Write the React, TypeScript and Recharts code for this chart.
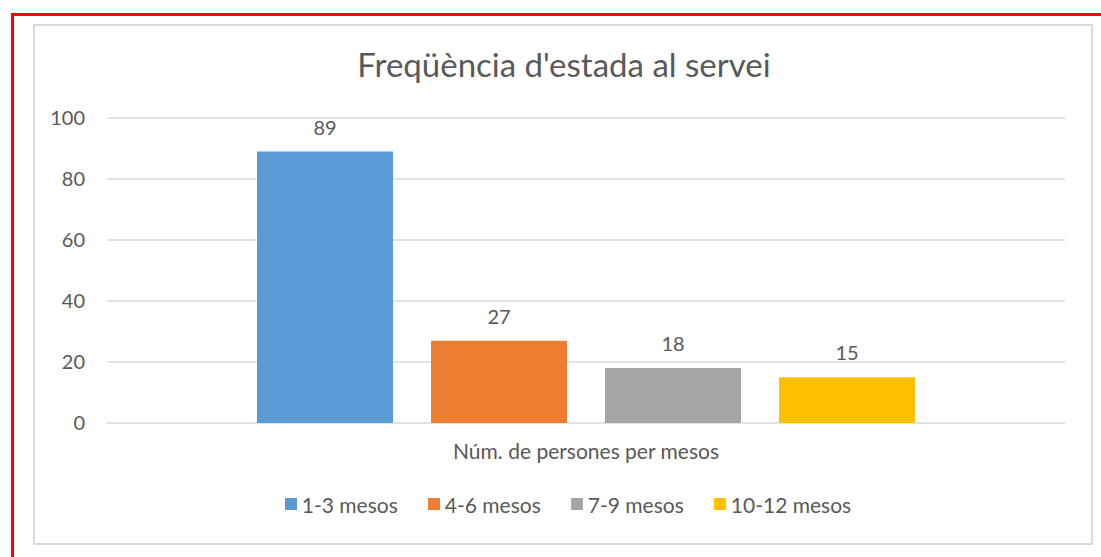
import { BarChart, Bar, XAxis, YAxis, CartesianGrid, Legend, LabelList } from 'recharts';

const CATEGORY = 'Núm. de persones per mesos';
const SERIES = ['1-3 mesos', '4-6 mesos', '7-9 mesos', '10-12 mesos'];
const VALUES = [89, 27, 18, 15];
const COLORS = ['#5b9bd5', '#ed7d31', '#a5a5a5', '#ffc000'];
const Y_TICKS = [0, 20, 40, 60, 80, 100];

const FONT = 'Lato, "Open Sans", sans-serif';
const TEXT = '#595959';

const row: Record<string, string | number> = { name: CATEGORY };
SERIES.forEach((s, i) => {
  row[s] = VALUES[i];
});
const data = [row];

// eslint-disable-next-line @typescript-eslint/no-explicit-any
function LegendContent(props: any) {
  const payload = [...(props.payload || [])].sort(
    (a: { value: string }, b: { value: string }) => SERIES.indexOf(a.value) - SERIES.indexOf(b.value)
  );
  return (
    <div
      style={{
        height: 30,
        display: 'flex',
        justifyContent: 'center',
        alignItems: 'center',
        gap: 30,
        fontFamily: FONT,
        fontSize: 21,
        color: TEXT,
      }}
    >
      {payload.map((p: { value: string; color: string }) => (
        <div key={p.value} style={{ display: 'flex', alignItems: 'center' }}>
          <span style={{ width: 12, height: 12, background: p.color, marginRight: 5 }} />
          <span>{p.value}</span>
        </div>
      ))}
    </div>
  );
}

export default function App() {
  return (
    <div
      style={{
        position: 'absolute',
        left: 0,
        top: 0,
        width: 1101,
        height: 557,
        background: '#fff',
        overflow: 'hidden',
      }}
    >
      {/* red frame, only left and top edges are visible */}
      <div
        style={{
          position: 'absolute',
          left: 11,
          top: 13,
          width: 1200,
          height: 700,
          borderLeft: '3px solid #ff0000',
          borderTop: '3px solid #ff0000',
        }}
      />
      <div
        style={{
          position: 'absolute',
          left: 33,
          top: 24,
          width: 1056,
          height: 517,
          border: '2px solid #d9d9d9',
        }}
      />
      <div
        style={{
          position: 'absolute',
          left: 33,
          width: 1062,
          top: 44,
          textAlign: 'center',
          fontFamily: FONT,
          fontSize: 33,
          color: TEXT,
        }}
      >
        Freqüència d'estada al servei
      </div>
      <div style={{ position: 'absolute', left: 0, top: 0 }}>
        <BarChart
          width={1101}
          height={557}
          data={data}
          margin={{ top: 118, right: 36, bottom: 38, left: 47 }}
          barCategoryGap={150}
          barGap={38}
        >
          <CartesianGrid vertical={false} stroke="#d9d9d9" strokeWidth={1.5} />
          <XAxis
            dataKey="name"
            axisLine={false}
            tickLine={false}
            tickSize={6}
            tickMargin={15}
            height={66}
            tick={{ fontSize: 21, fill: TEXT, fontFamily: FONT }}
          />
          <YAxis
            domain={[0, 100]}
            ticks={Y_TICKS}
            axisLine={false}
            tickLine={false}
            tickSize={6}
            tickMargin={16}
            width={60}
            tick={{ fontSize: 20, fill: TEXT, fontFamily: FONT }}
          />
          <Legend
            verticalAlign="bottom"
            content={LegendContent}
            wrapperStyle={{ left: 36, width: 1064 }}
          />
          {SERIES.map((s, i) => (
            <Bar key={s} dataKey={s} fill={COLORS[i]} isAnimationActive={false}>
              <LabelList
                dataKey={s}
                position="top"
                offset={17}
                style={{ fontSize: 20, fill: TEXT, fontFamily: FONT }}
              />
            </Bar>
          ))}
        </BarChart>
      </div>
    </div>
  );
}
